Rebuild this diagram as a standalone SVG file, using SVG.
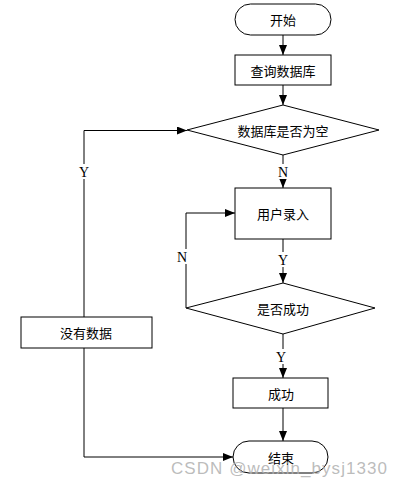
<svg xmlns="http://www.w3.org/2000/svg" width="403" height="487" viewBox="0 0 403 487">
<style>
.s{fill:#fff;stroke:#000;stroke-width:1}
.t{font-family:"Noto Sans CJK SC","Noto Sans CJK JP",sans-serif;font-size:13px;fill:#000;text-anchor:middle;dominant-baseline:central}
.l{font-family:"Liberation Serif",serif;font-size:14px;fill:#000;text-anchor:middle;dominant-baseline:central}
.c{fill:none;stroke:#000;stroke-width:1}
.lb{fill:#fff}
</style>
<defs>
<marker id="a" markerWidth="10" markerHeight="8" refX="10" refY="4" orient="auto" markerUnits="userSpaceOnUse">
<path d="M0,0 L10,4 L0,8 Z" fill="#000"/>
</marker>
</defs>
<rect width="403" height="487" fill="#fff"/>
<g id="connectors">
<line class="c" x1="283" y1="35" x2="283" y2="55" marker-end="url(#a)"/>
<line class="c" x1="283" y1="85" x2="283" y2="105" marker-end="url(#a)"/>
<line class="c" x1="283" y1="155" x2="283" y2="188" marker-end="url(#a)"/>
<line class="c" x1="283" y1="239" x2="283" y2="283" marker-end="url(#a)"/>
<line class="c" x1="283" y1="334" x2="283" y2="378" marker-end="url(#a)"/>
<line class="c" x1="283" y1="408" x2="283" y2="441" marker-end="url(#a)"/>
<polyline class="c" points="186,308 186,213 235,213" marker-end="url(#a)"/>
<polyline class="c" points="84,317 84,130.5 187,130.5" marker-end="url(#a)"/>
<polyline class="c" points="84,348 84,457 233,457" marker-end="url(#a)"/>
<rect class="lb" x="277" y="164" width="12" height="15"/>
<text class="l" x="283" y="172">N</text>
<rect class="lb" x="277" y="252" width="12" height="15"/>
<text class="l" x="283" y="260">Y</text>
<rect class="lb" x="275" y="349" width="12" height="15"/>
<text class="l" x="281" y="357">Y</text>
<rect class="lb" x="176" y="249" width="12" height="15"/>
<text class="l" x="182" y="257">N</text>
<rect class="lb" x="78" y="164" width="12" height="15"/>
<text class="l" x="84" y="172">Y</text>
</g>
<g id="start">
<rect class="s" x="235" y="4" width="96" height="31" rx="15.5"/>
<text class="t" x="283" y="19.5">开始</text>
</g>
<g id="query">
<rect class="s" x="235" y="55" width="96" height="30"/>
<text class="t" x="283" y="70">查询数据库</text>
</g>
<g id="isEmpty">
<polygon class="s" points="283,105 379,130 283,155 187,130"/>
<text class="t" x="283" y="130">数据库是否为空</text>
</g>
<g id="input">
<rect class="s" x="235" y="188" width="96" height="51"/>
<text class="t" x="283" y="213">用户录入</text>
</g>
<g id="isSuccess">
<polygon class="s" points="283,283 375,308 283,334 186,308"/>
<text class="t" x="283" y="308">是否成功</text>
</g>
<g id="noData">
<rect class="s" x="21" y="317" width="131" height="31"/>
<text class="t" x="86" y="332.5">没有数据</text>
</g>
<g id="success">
<rect class="s" x="233" y="378" width="95" height="30"/>
<text class="t" x="281" y="393">成功</text>
</g>
<g id="end">
<rect class="s" x="233" y="441" width="95" height="32" rx="16"/>
<text class="t" x="281" y="457">结束</text>
</g>
<text x="171" y="474" font-family="Liberation Sans, sans-serif" font-size="17" fill="#b0b0b0" fill-opacity="0.85" textLength="216">CSDN @weixin_bysj1330</text>
</svg>
